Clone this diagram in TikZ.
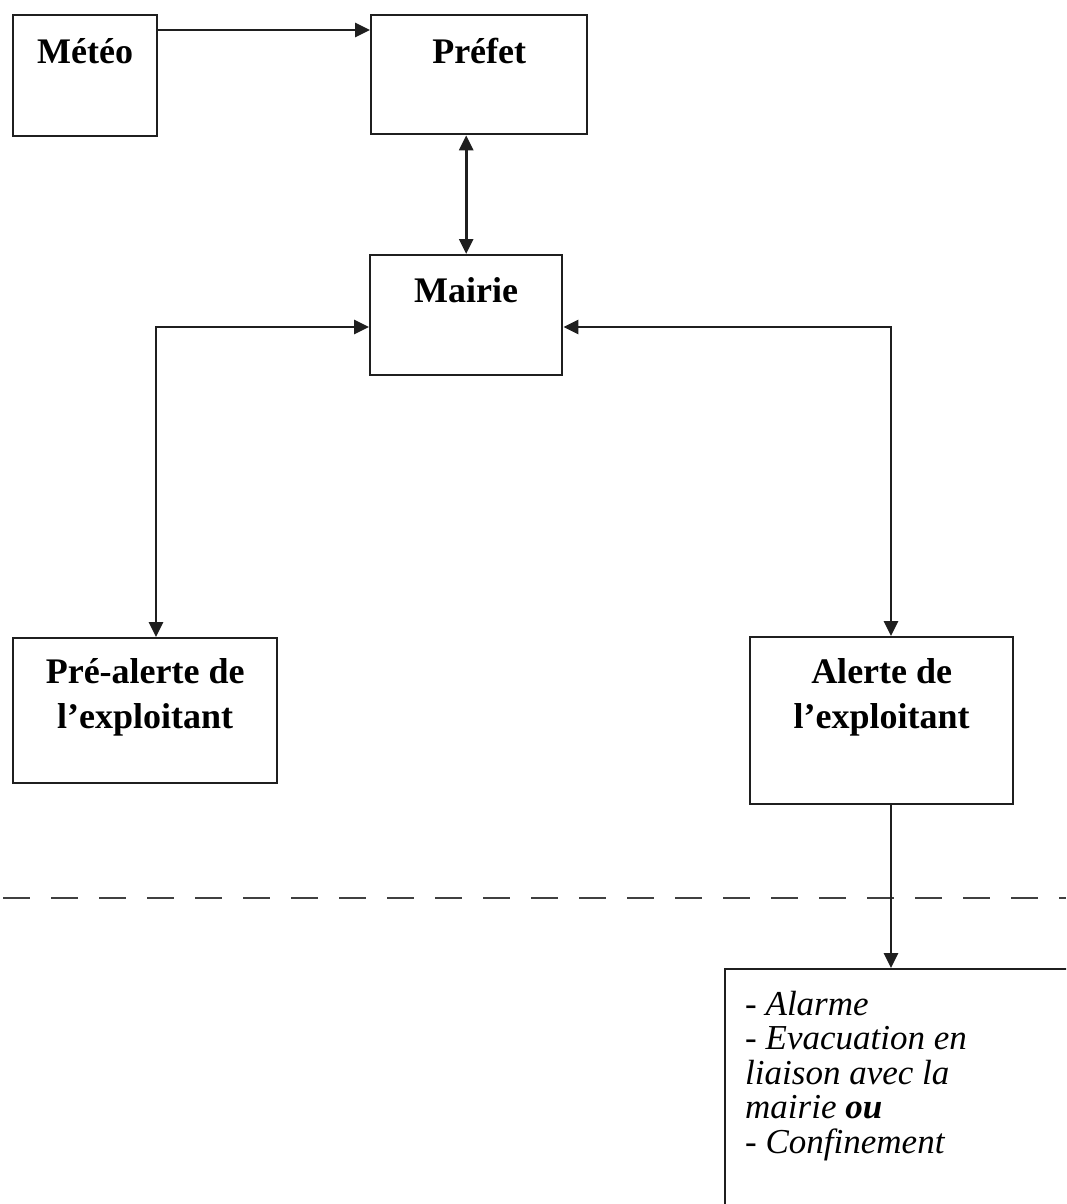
\documentclass[tikz,border=0pt]{standalone}
\usepackage{fontspec}
\setmainfont{Liberation Serif}
\usetikzlibrary{arrows.meta}
\definecolor{ink}{gray}{0.12}
\tikzset{
  boxn/.style={draw=ink, line width=2.4pt, inner sep=0pt, anchor=north west,
    font=\bfseries\fontsize{36}{45}\selectfont},
  conn/.style={draw=ink, line width=2.8pt, line join=miter},
  tip/.style={-{Triangle[length=15pt,width=14pt]}},
  tips/.style={{Triangle[length=15pt,width=14pt]}-{Triangle[length=15pt,width=14pt]}},
  sepline/.style={draw=ink!85, line width=2.2pt, dash pattern=on 27pt off 21pt, dash phase=45pt},
}
\begin{document}
\begin{tikzpicture}[x=1pt,y=-1pt]
\useasboundingbox[fill=white] (0,0) rectangle (1066,1204);
\clip (0,0) rectangle (1066,1204);

\node[boxn, minimum width=144pt, text height=48pt, text depth=73pt] (meteo) at (12,14) {Météo};
\node[boxn, minimum width=216pt, text height=48pt, text depth=71pt] (prefet) at (370,14) {Préfet};
\node[boxn, minimum width=192pt, text height=47pt, text depth=73pt] (mairie) at (369,254) {Mairie};
\node[boxn, minimum width=264pt, text height=45pt, text depth=100pt] (pre) at (12,637)
  {\setlength{\tabcolsep}{0pt}\begin{tabular}[t]{c}Pré-alerte de\\l’exploitant\end{tabular}};
\node[boxn, minimum width=263pt, text height=46pt, text depth=121pt] (alerte) at (749,636)
  {\setlength{\tabcolsep}{0pt}\begin{tabular}[t]{c}Alerte de\\l’exploitant\end{tabular}};
\node[boxn, minimum width=500pt, minimum height=400pt] (actions) at (724,968) {};
\node[anchor=base west, inner sep=0pt, font=\itshape\fontsize{35}{34.5}\selectfont] (actionstxt) at (745,1015)
  {\setlength{\tabcolsep}{0pt}\begin{tabular}[t]{l}- Alarme\\- Evacuation en\\liaison avec la\\mairie \textbf{ou}\\- Confinement\end{tabular}};

\coordinate (dl) at (0,898);
\coordinate (dr) at (1066,898);
\draw[sepline] (dl) -- (dr);

\draw[conn, tip] ([yshift=-16pt]meteo.north east) -- ([yshift=-16pt]prefet.north west);
\draw[conn, tips] (mairie.north |- prefet.south) -- (mairie.north);
\draw[conn, tips] ([yshift=-73pt]mairie.north west) -| ([xshift=144pt]pre.north west);
\draw[conn, tips] ([yshift=-73pt]mairie.north east) -| ([xshift=142pt]alerte.north west);
\draw[conn, tip] ([xshift=142pt]alerte.south west) -- ([xshift=167pt]actions.north west);
\end{tikzpicture}
\end{document}
